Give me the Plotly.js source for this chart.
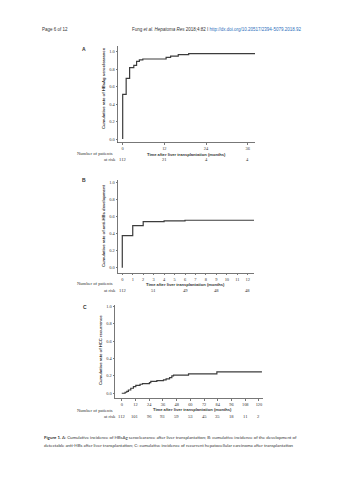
<!DOCTYPE html>
<html>
<head>
<meta charset="utf-8">
<script src="https://cdn.plot.ly/plotly-3.0.1.min.js"></script>
<style>html,body{margin:0;padding:0;background:#fff;}#chart{width:353px;height:480px;}</style>
</head>
<body>
<div id="chart"></div>
<script>
// ---- Data ----
// Panel A: cumulative rate of HBsAg seroclearance
const monthsA = [0, 0, 1, 2, 3.2, 4, 4.8, 5.8, 12.5, 13.8, 16, 19, 38.1];
const rateA   = [0, 0.51, 0.695, 0.817, 0.844, 0.889, 0.905, 0.916, 0.935, 0.95, 0.966, 0.977, 0.977];
const riskTimesA = [0, 12, 24, 36];
const riskA = ["112", "21", "4", "4"];
const ticksA = [0, 12, 24, 36];

// Panel B: cumulative rate of anti-HBs development
const monthsB = [0, 0, 1, 2, 4, 6, 12.6];
const rateB   = [0, 0.376, 0.494, 0.54, 0.548, 0.556, 0.556];
const riskTimesB = [0, 3, 6, 9, 12];
const riskB = ["112", "51", "49", "48", "48"];
const ticksB = [0,1,2,3,4,5,6,7,8,9,10,11,12];

// Panel C: cumulative rate of HCC recurrence
const monthsC = [0, 2.9, 4.4, 5.8, 7.9, 10.2, 12.3, 16, 18.1, 24.2, 25.4, 30.7, 36.5, 38.8, 41.8, 43.8, 45.3, 58.4, 83.2, 122.6];
const rateC   = [0, 0.012, 0.023, 0.038, 0.058, 0.077, 0.092, 0.104, 0.112, 0.123, 0.138, 0.146, 0.154, 0.165, 0.181, 0.2, 0.21, 0.223, 0.246, 0.246];
const riskTimesC = [0, 12, 24, 36, 48, 60, 72, 84, 96, 108, 120];
const riskC = ["112", "101", "96", "93", "59", "53", "45", "35", "18", "11", "2"];
const ticksC = [0, 12, 24, 36, 48, 60, 72, 84, 96, 108, 120];

const yTicks = [0, 0.2, 0.4, 0.6, 0.8, 1.0];
const yTickText = ["0.0", "0.2", "0.4", "0.6", "0.8", "1.0"];

const W = 353, H = 480;
const px = v => v / W;
const py = v => 1 - v / H;

const lineColor = '#3c3c3c';
const axisColor = '#555';
const serif = 'Liberation Serif, Times New Roman, serif';
const sans = 'Liberation Sans, Arial, sans-serif';

function trace(x, y, xa, ya) {
  return {x: x, y: y, xaxis: xa, yaxis: ya, type: 'scatter', mode: 'lines',
          line: {shape: 'hv', color: lineColor, width: 1.2}, hoverinfo: 'skip', showlegend: false};
}

const data = [
  trace(monthsA, rateA, 'x', 'y'),
  trace(monthsB, rateB, 'x2', 'y2'),
  trace(monthsC, rateC, 'x3', 'y3')
];

const axBase = {
  showline: true, linecolor: axisColor, linewidth: 0.8, ticks: 'outside', ticklen: 1.5,
  tickwidth: 0.8, tickcolor: axisColor, showgrid: false, zeroline: false,
  tickfont: {family: serif, size: 4.4, color: '#333'}, fixedrange: true
};
function xax(domain, range, tickvals, anchor) {
  return Object.assign({}, axBase, {domain: domain, range: range, tickmode: 'array', tickvals: tickvals,
    ticktext: tickvals.map(String), anchor: anchor});
}
function yax(domain, range, anchor) {
  return Object.assign({}, axBase, {domain: domain, range: range, tickmode: 'array', tickvals: yTicks,
    ticktext: yTickText, anchor: anchor});
}

const annotations = [];
function ann(text, x, y, opts) {
  annotations.push(Object.assign({text: text, x: x, y: y, xref: 'paper', yref: 'paper', showarrow: false,
    xanchor: 'center', yanchor: 'middle', font: {family: sans, size: 4.5, color: '#333'}}, opts || {}));
}

// header
ann('Page 6 of 12', px(40), py(29), {xanchor: 'left'});
ann('Fung <i>et al. Hepatoma Res</i> 2018;4:82 I <span style="color:#2a6ebb">http://dx.doi.org/10.20517/2394-5079.2018.92</span>', px(130), py(29), {xanchor: 'left'});

// panel labels
ann('<b>A</b>', px(84), py(49), {font: {family: sans, size: 5, color: '#333'}});
ann('<b>B</b>', px(84), py(180), {font: {family: sans, size: 5, color: '#333'}});
ann('<b>C</b>', px(85), py(307), {font: {family: sans, size: 5, color: '#333'}});

// y titles
const yTitleFont = {family: sans, size: 4.2, color: '#333'};
ann('<b>Cumulative rate of HBsAg seroclearance</b>', px(103), py(88), {textangle: -90, font: yTitleFont});
ann('<b>Cumulative rate of anti-HBs development</b>', px(103), py(226), {textangle: -90, font: yTitleFont});
ann('<b>Cumulative rate of HCC recurrence</b>', px(100), py(350), {textangle: -90, font: yTitleFont});

// x titles
const xTitleFont = {family: sans, size: 4.1, color: '#333'};
ann('<b>Time after liver transplantation (months)</b>', px(186), py(154), {font: xTitleFont});
ann('<b>Time after liver transplantation (months)</b>', px(185), py(284.5), {font: xTitleFont});
ann('<b>Time after liver transplantation (months)</b>', px(192), py(409.5), {font: xTitleFont});

// number at risk
const riskFont = {family: serif, size: 4.6, color: '#333'};
function riskRows(times, labels, xref, yLabel, yNum) {
  ann('Number of patients', px(115), py(yLabel), {xanchor: 'right', font: riskFont});
  ann('at risk', px(118), py(yNum), {xanchor: 'right', font: riskFont});
  times.forEach((t, i) => {
    annotations.push({text: labels[i], x: t, y: py(yNum), xref: xref, yref: 'paper', showarrow: false,
      xanchor: 'center', yanchor: 'middle', font: riskFont});
  });
}
riskRows(riskTimesA, riskA, 'x', 153, 160);
riskRows(riskTimesB, riskB, 'x2', 283.5, 290);
riskRows(riskTimesC, riskC, 'x3', 410.5, 416.8);

// caption
const capFont = {family: 'Lato, Open Sans, sans-serif', size: 4.4, color: '#333'};
ann('<b>Figure 1.</b> A: Cumulative incidence of HBsAg seroclearance after liver transplantation; B: cumulative incidence of the development of', px(42), py(437.5), {xanchor: 'left', font: capFont});
ann('detectable anti-HBs after liver transplantation; C: cumulative incidence of recurrent hepatocellular carcinoma after transplantation', px(42), py(445), {xanchor: 'left', font: capFont});

const layout = {
  width: W, height: H, margin: {l: 0, r: 0, t: 0, b: 0},
  paper_bgcolor: '#fff', plot_bgcolor: '#fff', showlegend: false,
  xaxis:  xax([px(118), px(255)], [-1.35, 38.1], ticksA, 'y'),
  yaxis:  yax([py(142.5), py(46)], [-0.04, 1.065], 'x'),
  xaxis2: xax([px(118), px(254)], [-0.41, 12.6], ticksB, 'y2'),
  yaxis2: yax([py(273), py(180)], [-0.062, 1.028], 'x2'),
  xaxis3: xax([px(115), px(263.3)], [-5.9, 123.8], ticksC, 'y3'),
  yaxis3: yax([py(398.3), py(305)], [-0.058, 1.018], 'x3'),
  annotations: annotations
};

Plotly.newPlot('chart', data, layout, {staticPlot: true, displayModeBar: false});
</script>
</body>
</html>
